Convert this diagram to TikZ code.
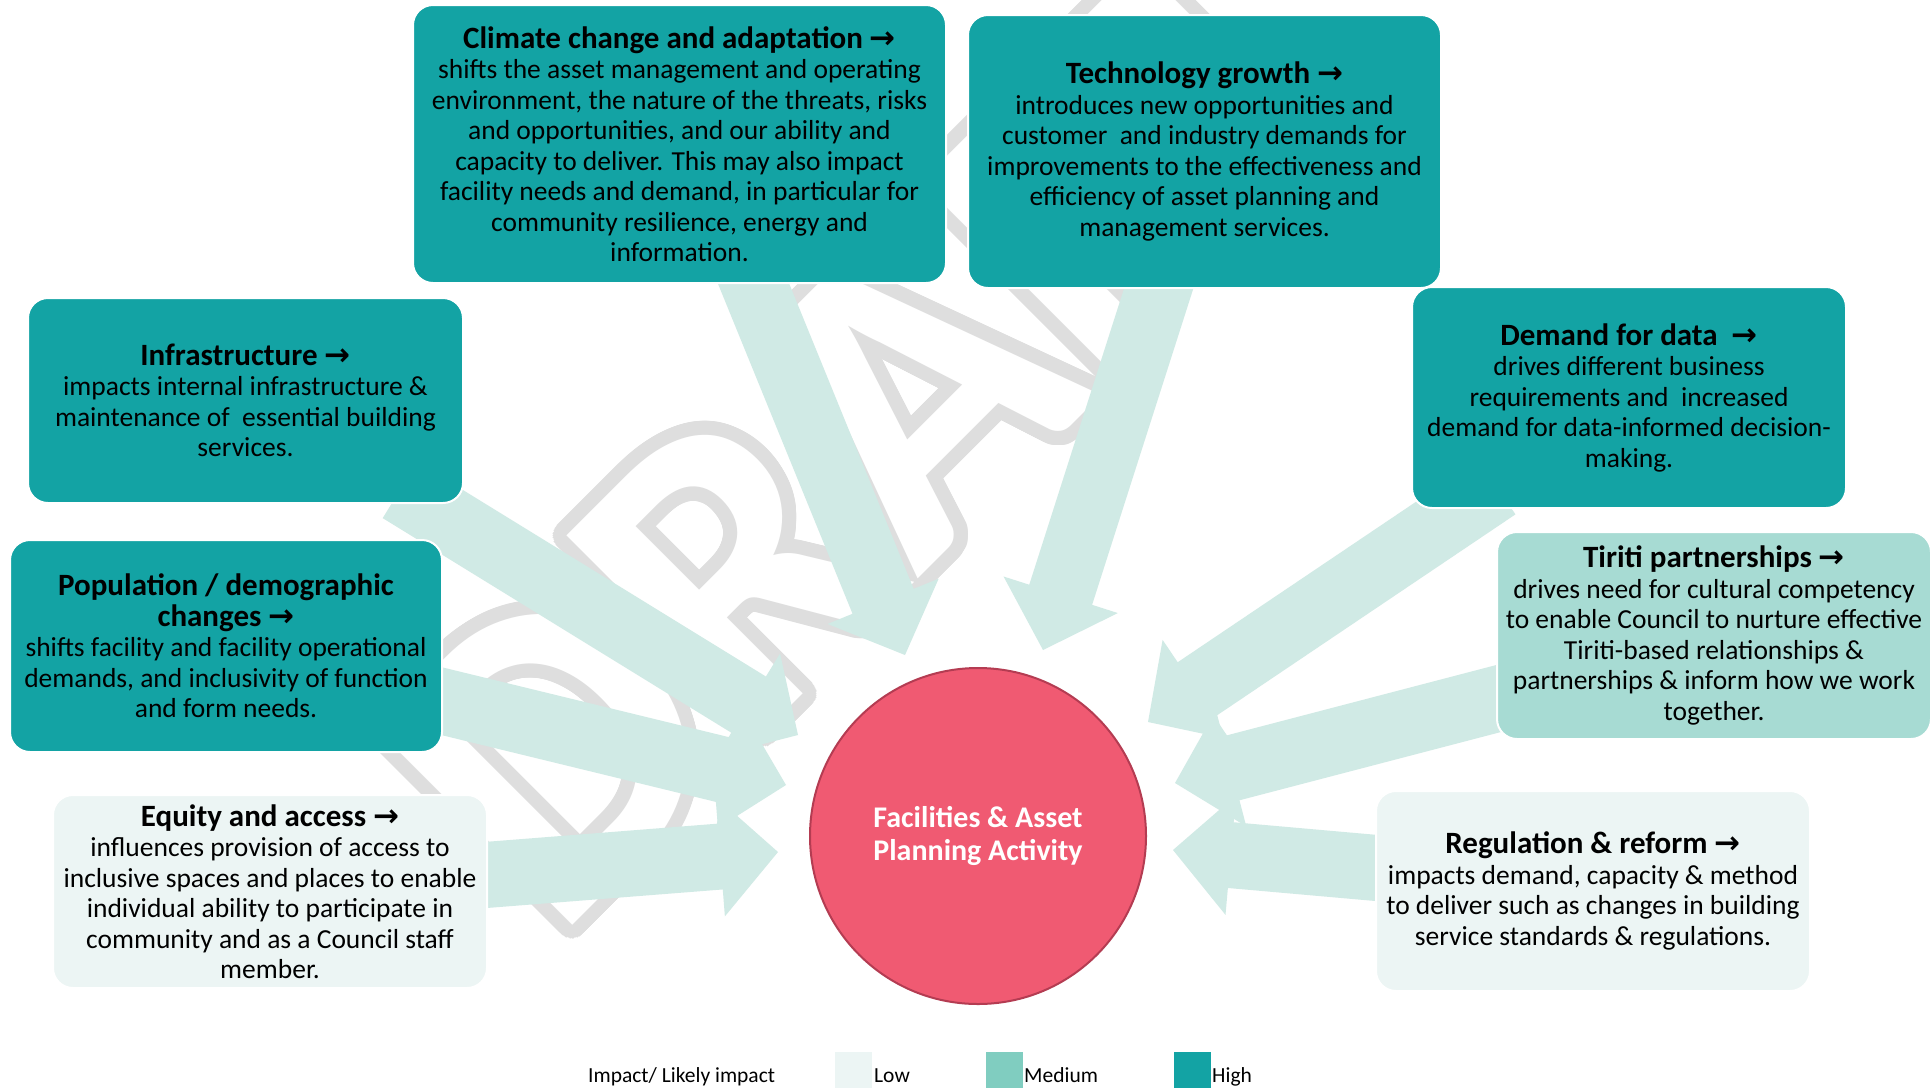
\documentclass[tikz,border=0pt]{standalone}
\usepackage{fontspec}
\usepackage{contour}
\setmainfont{Carlito}
\newfontfamily\arrfont{DejaVu Sans}
\usetikzlibrary{calc}
\definecolor{high}{HTML}{13A3A4}
\definecolor{med}{HTML}{A7DBD3}
\definecolor{low}{HTML}{ECF5F4}
\definecolor{legmed}{HTML}{80CDC0}
\definecolor{arr}{HTML}{D0EAE5}
\definecolor{circ}{HTML}{F05A72}
\definecolor{circb}{HTML}{B43C52}
\definecolor{wm}{HTML}{DEDEDE}
\contourlength{14pt}
\contournumber{48}
\newcommand{\rar}{{\arrfont\bfseries →}}
\newcommand{\ttl}[1]{{\bfseries\fontsize{31}{32}\selectfont #1}}
\newcommand{\blkarrow}[2]{%
  \coordinate (#1h) at ($(#2)!58pt!(#1)$);
  \fill[arr] ($(#1)!33pt!90:(#2)$) -- ($(#1h)!33pt!90:(#2)$) -- ($(#1h)!60pt!90:(#2)$) -- (#2)
    -- ($(#1h)!60pt!-90:(#2)$) -- ($(#1h)!33pt!-90:(#2)$) -- ($(#1)!33pt!-90:(#2)$) -- cycle;}
\tikzset{
  box/.style={rectangle, rounded corners=20pt, draw=white, line width=2pt, align=center,
    inner sep=0pt, text=black, font=\fontsize{27.5}{30.5}\selectfont},
  hbox/.style={box, fill=high},
  mbox/.style={box, fill=med},
  lbox/.style={box, fill=low},
  legtxt/.style={anchor=base west, inner sep=0pt, font=\fontsize{21.5}{23}\selectfont},
  swatch/.style={draw=none, minimum width=37pt, minimum height=36pt, inner sep=0pt, anchor=north west}
}
\begin{document}
\begin{tikzpicture}[x=1pt, y=-1pt]
\useasboundingbox (0,0) rectangle (1932,1088);
\fill[white] (0,0) rectangle (1932,1088);
% watermark
\node[rotate=45, inner sep=0pt, text=white, font=\bfseries\fontsize{430}{430}\selectfont] (wm) at (880,430) {\contour{wm}{DRAFT}};
% arrow coordinates
\coordinate (tClim) at (748,270);   \coordinate (pClim) at (905,655);
\coordinate (tTech) at (1163,275);  \coordinate (pTech) at (1043,650);
\coordinate (tInfr) at (400,490);   \coordinate (pInfr) at (798,735);
\coordinate (tPop)  at (400,691);   \coordinate (pPop)  at (786,785);
\coordinate (tEq)   at (460,877);   \coordinate (pEq)   at (778,852);
\coordinate (tDem)  at (1497,487);  \coordinate (pDem)  at (1148,722);
\coordinate (tTir)  at (1535,689);  \coordinate (pTir)  at (1175,783);
\coordinate (tReg)  at (1422,872);  \coordinate (pReg)  at (1173,850);
\blkarrow{tClim}{pClim}
\blkarrow{tTech}{pTech}
\blkarrow{tInfr}{pInfr}
\blkarrow{tPop}{pPop}
\blkarrow{tEq}{pEq}
\blkarrow{tDem}{pDem}
\blkarrow{tTir}{pTir}
\blkarrow{tReg}{pReg}
% boxes
\node[hbox, minimum width=533pt, minimum height=278pt] (clim) at (679.5,144) {\ttl{Climate change and adaptation \rar}\\
shifts the asset management and operating\\
environment, the nature of the threats, risks\\
and opportunities, and our ability and\\
capacity to deliver. This may also impact\\
facility needs and demand, in particular for\\
community resilience, energy and\\
information.};
\node[hbox, minimum width=473pt, minimum height=273pt] (tech) at (1204.5,151.5) {\ttl{Technology growth \rar}\\
introduces new opportunities and\\
customer\ \ and industry demands for\\
improvements to the effectiveness and\\
efficiency of asset planning and\\
management services.};
\node[hbox, minimum width=435pt, minimum height=205pt] (infr) at (245.5,400.5) {\ttl{Infrastructure \rar}\\
impacts internal infrastructure \&\\
maintenance of\ \ essential building\\
services.};
\node[hbox, minimum width=434pt, minimum height=221pt] (dem) at (1629,397.5) {\ttl{Demand for data\ \ \rar}\\
drives different business\\
requirements and\ \ increased\\
demand for data-informed decision-\\
making.};
\node[hbox, minimum width=432pt, minimum height=212pt] (pop) at (226,646) {\ttl{Population / demographic}\\
\ttl{changes \rar}\\
shifts facility and facility operational\\
demands, and inclusivity of function\\
and form needs.};
\node[mbox, minimum width=434pt, minimum height=207pt] (tir) at (1714,635.5) {\ttl{Tiriti partnerships \rar}\\
drives need for cultural competency\\
to enable Council to nurture effective\\
Tiriti-based relationships \&\\
partnerships \& inform how we work\\
together.};
\node[lbox, minimum width=434pt, minimum height=193pt] (eq) at (270,891.5) {\ttl{Equity and access \rar}\\
influences provision of access to\\
inclusive spaces and places to enable\\
individual ability to participate in\\
community and as a Council staff\\
member.};
\node[lbox, minimum width=434pt, minimum height=200pt] (reg) at (1593,891) {\ttl{Regulation \& reform \rar}\\
impacts demand, capacity \& method\\
to deliver such as changes in building\\
service standards \& regulations.};
% centre
\node[circle, fill=circ, draw=circb, line width=2pt, minimum size=336pt, inner sep=0pt, align=center,
  text=white, font=\bfseries\fontsize{30}{33}\selectfont] (fac) at (978,836) {Facilities \& Asset\\Planning Activity};
% legend
\node[legtxt] (legt) at (588,1082) {Impact/ Likely impact};
\node[swatch, fill=low] (swl) at (835,1052) {};
\node[legtxt] (legl) at (874,1082) {Low};
\node[swatch, fill=legmed] (swm) at (986,1052) {};
\node[legtxt] (legm) at (1024,1082) {Medium};
\node[swatch, fill=high] (swh) at (1174,1052) {};
\node[legtxt] (legh) at (1212,1082) {High};
\end{tikzpicture}
\end{document}
